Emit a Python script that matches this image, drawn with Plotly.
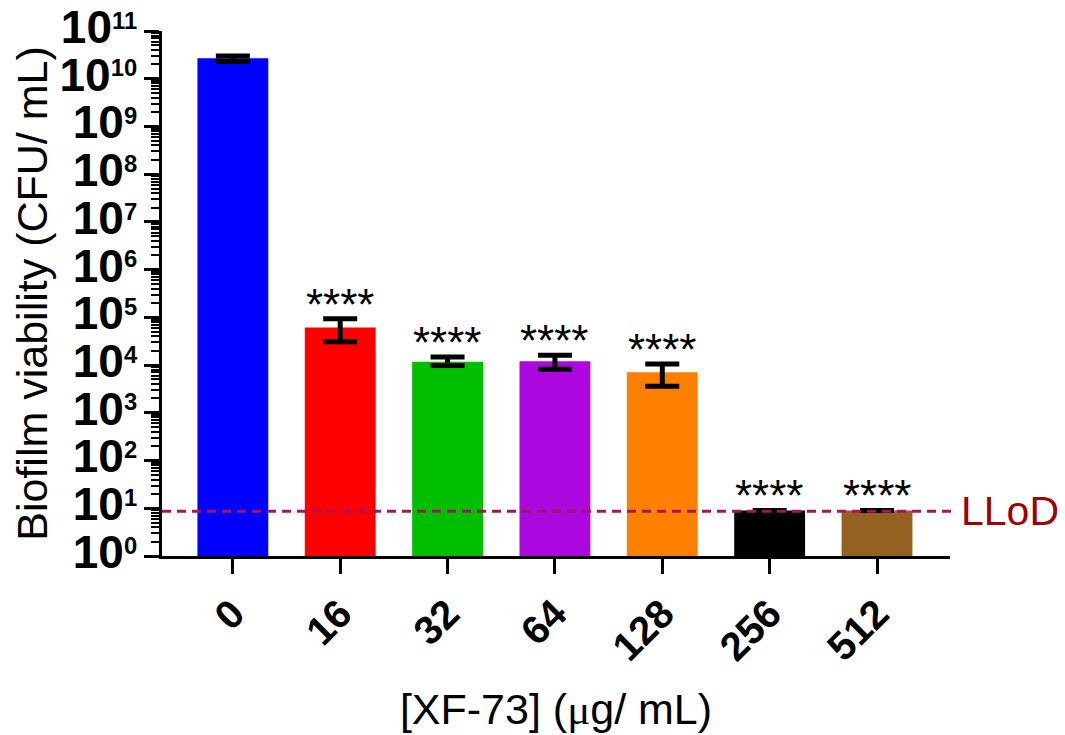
import math
import plotly.graph_objects as go

# ---- data ----
categories = ["0", "16", "32", "64", "128", "256", "512"]
cfu_mean = [2.7e10, 6.1e4, 1.18e4, 1.2e4, 7.1e3, 9, 9]
err_plus = [0.3e10, 3.2e4, 3.0e3, 4.0e3, 3.5e3, 0, 0]
err_minus = [0.4e10, 3.0e4, 2.0e3, 3.8e3, 3.5e3, 0, 0]
bar_colors = ["#0000FF", "#FF0000", "#00BF00", "#AD07E0", "#FF8000", "#000000", "#936120"]
significance = ["", "****", "****", "****", "****", "****", "****"]
lod_value = 8.7
lod_label = "LLoD"
y_decades = list(range(0, 12))
y_ticktext = ['<span style="font-size:46px">10</span><sup>%d</sup>' % d for d in y_decades]
x_title = '[XF-73] (<span style="font-family:Liberation Serif">μ</span>g/ mL)'
y_title = "Biofilm viability (CFU/ mL)"

FONT = "Liberation Sans, Arial, sans-serif"

fig = go.Figure()
x_pos = list(range(len(categories)))
fig.add_trace(go.Bar(
    x=x_pos, y=cfu_mean, width=0.66,
    marker=dict(color=bar_colors, line=dict(width=0)),
    error_y=dict(type="data", symmetric=False, array=err_plus, arrayminus=err_minus,
                 color="black", thickness=5, width=17),
    showlegend=False,
))

major_vals = [10 ** d for d in y_decades]
minor_vals = [k * 10 ** d for d in y_decades[:-1] for k in range(2, 10)]

for i, (m, p, s) in enumerate(zip(cfu_mean, err_plus, significance)):
    if s:
        fig.add_annotation(x=i, y=math.log10(m + p), text=s,
                           showarrow=False, yanchor="bottom", yshift=-12,
                           font=dict(family=FONT, size=44, color="black"))

fig.add_shape(type="line", xref="paper", yref="y", x0=0, x1=1.003,
              y0=lod_value, y1=lod_value,
              line=dict(color="#A8135E", width=3, dash="9px,6px"))
fig.add_annotation(xref="paper", yref="y", x=1.012, y=math.log10(lod_value),
                   text=lod_label, showarrow=False, xanchor="left", yanchor="middle",
                   font=dict(family=FONT, size=41, color="#A00000"))

# the page body adds an 8px offset; margins compensate so the plot sits where the reference has it
fig.update_layout(
    width=1065, height=735,
    margin=dict(l=154, r=123, t=23, b=187, autoexpand=False),
    plot_bgcolor="white", paper_bgcolor="white",
    font=dict(family=FONT, color="black"),
    xaxis=dict(
        range=[-0.66, 6.68], automargin=False,
        tickmode="array", tickvals=x_pos, ticktext=categories,
        showline=True, linecolor="black", linewidth=3,
        ticks="outside", ticklen=15, tickwidth=3, tickcolor="black",
        tickangle=-45, tickfont=dict(family=FONT, size=40, weight="bold"),
        ticklabeloverflow="allow",
        title=dict(text=x_title, font=dict(family=FONT, size=43), standoff=26),
        showgrid=False, zeroline=False,
    ),
    yaxis=dict(
        type="log", range=[0, 11], automargin=False,
        tickmode="array", tickvals=major_vals, ticktext=y_ticktext,
        showline=True, linecolor="black", linewidth=3,
        ticks="outside", ticklen=15, tickwidth=3, tickcolor="black",
        tickfont=dict(family=FONT, size=34, weight="bold"),
        ticklabeloverflow="allow",
        minor=dict(tickmode="array", tickvals=minor_vals, ticks="outside",
                   ticklen=8, tickwidth=2, tickcolor="black", showgrid=False),
        title=dict(text=y_title, font=dict(family=FONT, size=43), standoff=10),
        showgrid=False, zeroline=False,
    ),
)

fig.write_html("out.html")
